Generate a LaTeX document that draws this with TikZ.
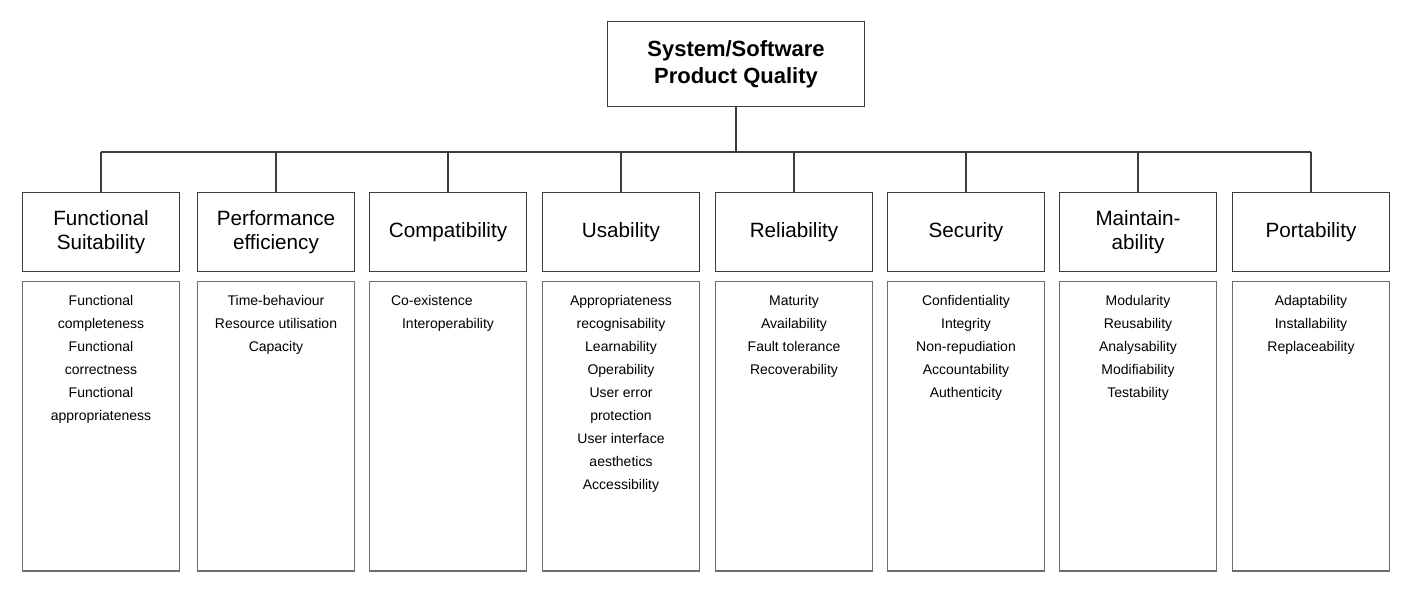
\documentclass[tikz,border=0pt]{standalone}
\usepackage{fontspec}
\setmainfont{Liberation Sans}
\usetikzlibrary{positioning}
\definecolor{boxline}{RGB}{60,60,60}
\definecolor{subline}{RGB}{110,110,110}

\begin{document}
\begin{tikzpicture}[x=0.75pt, y=-0.75pt,
	top/.style={draw=boxline, line width=1.2pt, minimum width=193pt, minimum height=64pt, align=center, font=\fontsize{16.5}{20}\selectfont\bfseries},
	head/.style={draw=boxline, line width=1.2pt, minimum width=118pt, minimum height=59pt, align=center, font=\fontsize{15.5}{18.5}\selectfont},
	detail/.style={draw=subline, line width=1pt, minimum width=118pt, minimum height=217pt, align=center, anchor=north, inner sep=0pt, font=\fontsize{10.5}{17.2}\selectfont},
	link/.style={draw=boxline, line width=2pt}]
	\useasboundingbox (0,0) rectangle (1413,593);
	\node[top] (quality) at (736,64) {System/Software\\Product Quality};
	\coordinate (bus) at (736,152);
	\draw[link] (quality.south) -- (bus);
	\draw[link] (101,152) -- (1311,152);
	\foreach \i/\cx/\title/\items in {
		1/101/{Functional\\Suitability}/{Functional\\completeness\\Functional\\correctness\\Functional\\appropriateness},
		2/276/{Performance\\efficiency}/{Time-behaviour\\Resource utilisation\\Capacity},
		3/448/{Compatibility}/{Co-existence\hspace*{2.3em}\\Interoperability},
		4/621/{Usability}/{Appropriateness\\recognisability\\Learnability\\Operability\\User error\\protection\\User interface\\aesthetics\\Accessibility},
		5/794/{Reliability}/{Maturity\\Availability\\Fault tolerance\\Recoverability},
		6/966/{Security}/{Confidentiality\\Integrity\\Non-repudiation\\Accountability\\Authenticity},
		7/1138/{Maintain-\\ability}/{Modularity\\Reusability\\Analysability\\Modifiability\\Testability},
		8/1311/{Portability}/{Adaptability\\Installability\\Replaceability}} {
		\node[head] (h\i) at (\cx,232) {\title};
		\node[detail] (d\i) at (\cx,281) {};
		\node[anchor=north, align=center, font=\fontsize{10.5}{17.2}\selectfont] (t\i) at (\cx,291) {\items};
		\draw[link] (h\i.north) -- (h\i.north |- bus);
	}
\end{tikzpicture}
\end{document}
